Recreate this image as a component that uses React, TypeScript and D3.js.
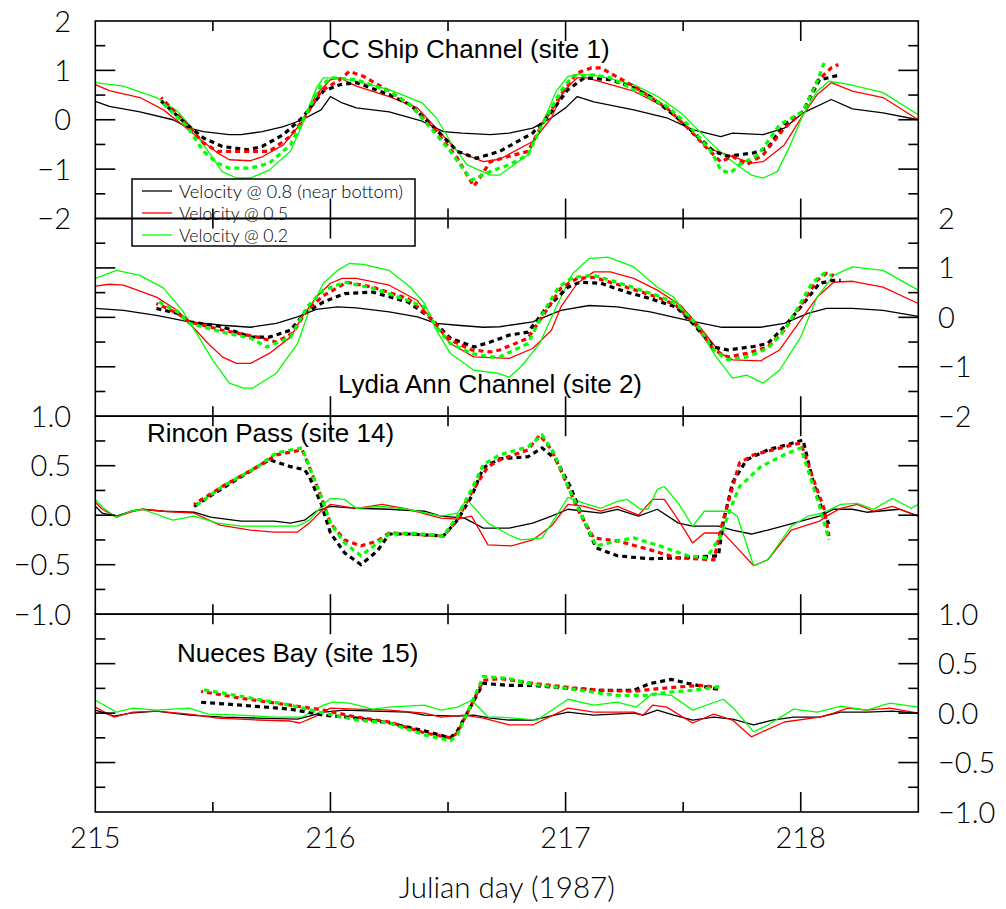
import React from 'react';
import * as d3 from 'd3';

type Pt = [number, number];

// ---------- axes / labels ----------
const X_DOMAIN: [number, number] = [215, 218.5];
const X_LABEL_VALUES = [215, 216, 217, 218];
const X_TICK_VALUES = [215.5, 216, 216.5, 217, 217.5, 218];
const X_TITLE = 'Julian day (1987)';

const WIDE_DOMAIN: [number, number] = [-2, 2];
const WIDE_LABELS = [2, 1, 0, -1, -2];
const WIDE_TICKS = [-1.5, -1, -0.5, 0, 0.5, 1, 1.5];
const NARROW_DOMAIN: [number, number] = [-1, 1];
const NARROW_LABELS = [1, 0.5, 0, -0.5, -1];
const NARROW_TICKS = [-0.75, -0.5, -0.25, 0, 0.25, 0.5, 0.75];

const SERIES_NAMES = ['Velocity @ 0.8 (near bottom)', 'Velocity @ 0.5', 'Velocity @ 0.2'];
const SERIES_COLORS = ['#000000', '#ff0000', '#00ff00'];
const PANEL_TITLES = ['CC Ship Channel (site 1)', 'Lydia Ann Channel (site 2)', 'Rincon Pass (site 14)', 'Nueces Bay (site 15)'];

// ---------- Panel 1 : CC Ship Channel ----------
const P1_S08: Pt[] = [[215.00,0.37],[215.06,0.27],[215.19,0.16],[215.33,0.00],[215.40,-0.17],[215.46,-0.24],[215.57,-0.30],[215.62,-0.30],[215.71,-0.24],[215.80,-0.14],[215.88,0.00],[215.96,0.20],[216.00,0.47],[216.05,0.34],[216.11,0.24],[216.25,0.16],[216.39,-0.03],[216.48,-0.24],[216.56,-0.27],[216.68,-0.30],[216.76,-0.27],[216.86,-0.17],[216.94,0.04],[217.00,0.24],[217.05,0.47],[217.12,0.36],[217.29,0.20],[217.43,0.04],[217.54,-0.20],[217.66,-0.34],[217.71,-0.27],[217.84,-0.30],[217.93,-0.17],[218.01,0.14],[218.13,0.41],[218.22,0.22],[218.35,0.14],[218.50,0.00]];
const P1_S05: Pt[] = [[215.00,0.71],[215.06,0.59],[215.19,0.45],[215.29,0.20],[215.37,-0.10],[215.46,-0.45],[215.52,-0.67],[215.57,-0.81],[215.66,-0.83],[215.71,-0.75],[215.80,-0.51],[215.88,-0.04],[215.94,0.51],[216.00,0.81],[216.04,0.85],[216.11,0.68],[216.25,0.47],[216.37,0.24],[216.45,-0.17],[216.54,-0.64],[216.65,-0.85],[216.72,-0.80],[216.86,-0.44],[216.94,0.04],[216.99,0.58],[217.05,0.85],[217.09,0.85],[217.29,0.58],[217.43,0.24],[217.52,-0.17],[217.60,-0.57],[217.69,-0.71],[217.79,-0.88],[217.84,-0.85],[217.93,-0.51],[218.01,0.10],[218.07,0.51],[218.13,0.75],[218.22,0.58],[218.35,0.45],[218.50,0.00]];
const P1_S02: Pt[] = [[215.00,0.75],[215.12,0.68],[215.26,0.45],[215.35,0.17],[215.40,-0.10],[215.48,-0.64],[215.54,-1.05],[215.60,-1.18],[215.66,-1.18],[215.74,-1.02],[215.83,-0.64],[215.88,-0.10],[215.94,0.65],[215.97,0.85],[216.03,0.85],[216.11,0.78],[216.25,0.61],[216.39,0.34],[216.45,0.04],[216.51,-0.44],[216.58,-0.91],[216.68,-1.12],[216.72,-1.12],[216.84,-0.71],[216.90,-0.10],[216.96,0.58],[217.01,0.88],[217.06,0.93],[217.15,0.88],[217.29,0.71],[217.40,0.45],[217.50,0.10],[217.57,-0.24],[217.64,-0.57],[217.71,-0.85],[217.79,-1.12],[217.84,-1.18],[217.90,-1.05],[217.95,-0.57],[218.01,0.10],[218.07,0.58],[218.12,0.78],[218.21,0.71],[218.35,0.55],[218.50,0.10]];
const P1_D08: Pt[] = [[215.28,0.38],[215.39,-0.10],[215.46,-0.37],[215.54,-0.54],[215.65,-0.61],[215.71,-0.54],[215.80,-0.30],[215.88,0.04],[215.97,0.58],[216.04,0.71],[216.11,0.75],[216.25,0.51],[216.34,0.30],[216.45,-0.20],[216.54,-0.64],[216.62,-0.78],[216.72,-0.64],[216.86,-0.27],[216.93,0.10],[217.01,0.61],[217.08,0.85],[217.19,0.81],[217.29,0.65],[217.36,0.47],[217.46,0.10],[217.54,-0.24],[217.63,-0.64],[217.69,-0.74],[217.80,-0.67],[217.86,-0.57],[217.93,-0.10],[218.01,0.17],[218.08,0.81],[218.17,0.91]];
const P1_D05: Pt[] = [[215.28,0.45],[215.39,-0.10],[215.46,-0.47],[215.52,-0.64],[215.66,-0.64],[215.74,-0.64],[215.82,-0.37],[215.88,-0.04],[215.96,0.58],[216.04,0.81],[216.08,0.98],[216.14,0.88],[216.25,0.58],[216.34,0.30],[216.45,-0.24],[216.54,-0.78],[216.61,-1.35],[216.68,-0.85],[216.76,-0.74],[216.84,-0.64],[216.90,-0.10],[216.98,0.51],[217.05,0.95],[217.11,1.05],[217.15,1.05],[217.29,0.68],[217.43,0.24],[217.52,-0.17],[217.60,-0.57],[217.66,-0.85],[217.71,-0.74],[217.77,-0.91],[217.84,-0.71],[217.93,-0.17],[218.01,0.17],[218.07,0.78],[218.13,1.05],[218.16,1.12]];
const P1_D02: Pt[] = [[215.28,0.37],[215.39,-0.14],[215.46,-0.64],[215.52,-0.88],[215.57,-0.98],[215.66,-0.98],[215.74,-0.88],[215.83,-0.51],[215.88,-0.04],[215.96,0.71],[216.01,0.85],[216.11,0.81],[216.25,0.58],[216.34,0.30],[216.45,-0.30],[216.51,-0.64],[216.60,-1.22],[216.68,-1.05],[216.76,-0.91],[216.84,-0.71],[216.90,-0.10],[216.98,0.58],[217.03,0.88],[217.12,0.91],[217.19,0.85],[217.29,0.61],[217.43,0.27],[217.52,-0.10],[217.62,-0.64],[217.66,-1.02],[217.70,-1.08],[217.74,-0.91],[217.82,-0.71],[217.91,-0.10],[218.01,0.17],[218.07,0.78],[218.10,1.16]];

// ---------- Panel 2 : Lydia Ann Channel ----------
const P2_S08: Pt[] = [[215.00,0.18],[215.12,0.14],[215.26,0.04],[215.40,-0.09],[215.54,-0.16],[215.66,-0.20],[215.77,-0.12],[215.86,0.01],[215.94,0.16],[216.03,0.21],[216.11,0.19],[216.25,0.11],[216.37,0.01],[216.45,-0.12],[216.54,-0.16],[216.65,-0.20],[216.72,-0.19],[216.86,-0.09],[216.98,0.14],[217.10,0.24],[217.22,0.21],[217.36,0.11],[217.52,-0.06],[217.66,-0.20],[217.83,-0.20],[217.93,-0.12],[218.03,0.08],[218.11,0.18],[218.22,0.18],[218.35,0.14],[218.50,0.02]];
const P2_S05: Pt[] = [[215.00,0.63],[215.06,0.67],[215.12,0.65],[215.26,0.41],[215.35,0.14],[215.40,-0.12],[215.48,-0.53],[215.54,-0.80],[215.60,-0.93],[215.66,-0.93],[215.74,-0.73],[215.83,-0.40],[215.88,0.01],[215.94,0.41],[216.00,0.69],[216.05,0.79],[216.11,0.79],[216.25,0.65],[216.37,0.34],[216.44,-0.12],[216.51,-0.53],[216.61,-0.80],[216.76,-0.83],[216.86,-0.63],[216.94,-0.26],[216.98,0.21],[217.05,0.69],[217.12,0.92],[217.19,0.92],[217.29,0.79],[217.39,0.55],[217.49,0.24],[217.57,-0.19],[217.66,-0.73],[217.71,-0.86],[217.83,-0.88],[217.91,-0.66],[217.99,-0.12],[218.07,0.41],[218.14,0.71],[218.22,0.73],[218.35,0.61],[218.50,0.28]];
const P2_S02: Pt[] = [[215.00,0.79],[215.09,0.95],[215.19,0.85],[215.29,0.59],[215.37,0.14],[215.43,-0.32],[215.50,-0.87],[215.57,-1.33],[215.63,-1.43],[215.67,-1.43],[215.77,-1.13],[215.86,-0.53],[215.91,0.14],[215.97,0.69],[216.03,0.95],[216.08,1.09],[216.14,1.07],[216.25,0.95],[216.34,0.61],[216.40,0.28],[216.45,-0.26],[216.51,-0.73],[216.61,-1.07],[216.71,-1.13],[216.76,-1.21],[216.81,-1.00],[216.89,-0.53],[216.96,0.21],[217.03,0.89],[217.10,1.19],[217.18,1.22],[217.29,1.02],[217.39,0.61],[217.46,0.41],[217.50,0.14],[217.57,-0.26],[217.64,-0.80],[217.71,-1.23],[217.77,-1.17],[217.84,-1.33],[217.91,-1.07],[218.00,-0.40],[218.07,0.41],[218.14,0.85],[218.22,1.02],[218.35,0.95],[218.50,0.55]];
const P2_D08: Pt[] = [[215.26,0.18],[215.35,0.08],[215.40,-0.09],[215.54,-0.19],[215.66,-0.40],[215.74,-0.40],[215.83,-0.26],[215.89,0.08],[215.97,0.31],[216.06,0.48],[216.18,0.51],[216.33,0.31],[216.42,0.01],[216.51,-0.42],[216.61,-0.60],[216.68,-0.50],[216.76,-0.36],[216.84,-0.30],[216.91,0.14],[217.01,0.61],[217.06,0.71],[217.15,0.69],[217.26,0.51],[217.36,0.38],[217.47,0.21],[217.54,-0.12],[217.63,-0.60],[217.69,-0.66],[217.80,-0.59],[217.86,-0.53],[217.93,-0.19],[218.00,0.21],[218.08,0.69],[218.14,0.75],[218.17,0.75]];
const P2_D05: Pt[] = [[215.26,0.28],[215.35,0.08],[215.40,-0.09],[215.54,-0.26],[215.69,-0.40],[215.77,-0.50],[215.84,-0.32],[215.90,0.14],[215.97,0.44],[216.07,0.71],[216.18,0.61],[216.33,0.38],[216.42,0.01],[216.51,-0.46],[216.60,-0.66],[216.68,-0.70],[216.72,-0.66],[216.84,-0.42],[216.91,0.08],[216.98,0.59],[217.05,0.79],[217.12,0.81],[217.26,0.61],[217.39,0.41],[217.47,0.24],[217.56,-0.19],[217.63,-0.66],[217.69,-0.80],[217.77,-0.73],[217.86,-0.60],[217.93,-0.26],[218.00,0.24],[218.07,0.75],[218.11,0.89],[218.14,0.85]];
const P2_D02: Pt[] = [[215.26,0.34],[215.35,0.11],[215.40,-0.12],[215.54,-0.30],[215.66,-0.42],[215.73,-0.60],[215.83,-0.40],[215.90,0.21],[215.97,0.55],[216.06,0.71],[216.18,0.59],[216.33,0.34],[216.40,0.21],[216.45,-0.19],[216.51,-0.53],[216.60,-0.73],[216.68,-0.80],[216.72,-0.80],[216.84,-0.53],[216.91,0.14],[216.97,0.61],[217.03,0.81],[217.12,0.85],[217.26,0.65],[217.39,0.44],[217.47,0.28],[217.56,-0.16],[217.63,-0.66],[217.69,-0.86],[217.77,-0.80],[217.86,-0.63],[217.93,-0.26],[217.99,0.21],[218.05,0.71],[218.10,0.89],[218.13,0.85]];

// ---------- Panel 3 : Rincon Pass ----------
const P3_S08: Pt[] = [[215.00,0.09],[215.03,0.02],[215.09,-0.01],[215.15,0.04],[215.20,0.06],[215.29,0.04],[215.42,0.03],[215.49,-0.02],[215.62,-0.06],[215.76,-0.06],[215.83,-0.08],[215.89,-0.05],[215.94,0.04],[216.00,0.09],[216.11,0.07],[216.25,0.06],[216.40,0.04],[216.47,-0.01],[216.57,-0.03],[216.65,-0.13],[216.76,-0.13],[216.86,-0.08],[216.94,-0.01],[217.01,0.06],[217.15,0.02],[217.22,0.06],[217.31,-0.01],[217.39,0.06],[217.48,-0.08],[217.54,-0.11],[217.65,-0.11],[217.71,-0.15],[217.79,-0.19],[217.86,-0.15],[217.97,-0.08],[218.08,-0.01],[218.14,0.06],[218.22,0.06],[218.28,0.03],[218.42,0.06],[218.50,-0.01]];
const P3_S05: Pt[] = [[215.00,0.13],[215.03,0.06],[215.09,-0.02],[215.15,0.03],[215.20,0.06],[215.29,0.04],[215.42,0.02],[215.53,-0.10],[215.66,-0.15],[215.76,-0.17],[215.86,-0.17],[215.91,-0.08],[215.96,0.04],[216.00,0.11],[216.11,0.07],[216.22,0.11],[216.33,0.06],[216.47,-0.03],[216.54,-0.04],[216.60,-0.01],[216.67,-0.30],[216.77,-0.31],[216.86,-0.25],[216.94,-0.11],[217.01,0.11],[217.08,0.09],[217.15,0.04],[217.22,0.09],[217.31,0.00],[217.37,0.16],[217.42,0.16],[217.48,-0.05],[217.54,-0.28],[217.59,-0.18],[217.67,-0.18],[217.71,-0.28],[217.80,-0.51],[217.86,-0.45],[217.96,-0.15],[218.08,-0.06],[218.11,-0.01],[218.17,0.07],[218.24,0.11],[218.31,0.04],[218.39,0.09],[218.50,-0.01]];
const P3_S02: Pt[] = [[215.00,0.16],[215.03,0.08],[215.09,-0.02],[215.15,0.04],[215.20,0.06],[215.33,-0.05],[215.42,-0.01],[215.52,-0.08],[215.62,-0.11],[215.76,-0.11],[215.86,-0.11],[215.91,-0.05],[215.97,0.11],[216.00,0.17],[216.06,0.16],[216.11,0.07],[216.22,0.09],[216.33,0.06],[216.47,-0.01],[216.54,0.02],[216.58,0.16],[216.67,-0.08],[216.76,-0.20],[216.81,-0.25],[216.90,-0.23],[216.96,-0.01],[217.01,0.18],[217.08,0.12],[217.15,0.07],[217.22,0.14],[217.26,0.16],[217.32,0.06],[217.35,0.06],[217.39,0.26],[217.42,0.29],[217.48,0.12],[217.54,-0.11],[217.59,0.04],[217.70,0.04],[217.73,-0.01],[217.80,-0.51],[217.86,-0.45],[217.96,-0.11],[218.03,-0.01],[218.09,0.02],[218.17,0.11],[218.24,0.12],[218.31,0.06],[218.39,0.17],[218.47,0.07],[218.50,0.11]];
const P3_D08: Pt[] = [[215.42,0.09],[215.54,0.27],[215.69,0.49],[215.74,0.56],[215.83,0.49],[215.89,0.46],[215.91,0.39],[215.96,0.12],[216.00,-0.18],[216.06,-0.38],[216.13,-0.50],[216.20,-0.36],[216.25,-0.19],[216.34,-0.19],[216.48,-0.21],[216.54,-0.05],[216.60,0.19],[216.65,0.48],[216.72,0.57],[216.84,0.59],[216.90,0.68],[216.96,0.56],[217.02,0.29],[217.07,-0.01],[217.13,-0.33],[217.22,-0.41],[217.36,-0.44],[217.50,-0.43],[217.65,-0.41],[217.67,-0.08],[217.71,0.33],[217.77,0.56],[217.86,0.66],[217.94,0.71],[218.01,0.76],[218.05,0.36],[218.09,0.06],[218.12,-0.09]];
const P3_D05: Pt[] = [[215.42,0.11],[215.54,0.29],[215.69,0.49],[215.77,0.61],[215.88,0.66],[215.91,0.49],[215.96,0.19],[216.00,-0.08],[216.06,-0.25],[216.13,-0.31],[216.20,-0.26],[216.25,-0.18],[216.34,-0.19],[216.48,-0.21],[216.54,-0.05],[216.60,0.23],[216.67,0.49],[216.72,0.56],[216.84,0.66],[216.89,0.81],[216.94,0.66],[217.01,0.29],[217.06,0.02],[217.12,-0.23],[217.22,-0.26],[217.36,-0.35],[217.47,-0.43],[217.63,-0.45],[217.67,-0.05],[217.74,0.53],[217.80,0.61],[217.93,0.69],[218.00,0.73],[218.05,0.39],[218.10,0.06],[218.12,-0.21]];
const P3_D02: Pt[] = [[215.42,0.08],[215.54,0.29],[215.69,0.49],[215.77,0.63],[215.88,0.68],[215.91,0.49],[215.96,0.19],[216.00,-0.08],[216.06,-0.28],[216.13,-0.41],[216.20,-0.28],[216.25,-0.19],[216.34,-0.18],[216.48,-0.21],[216.54,-0.01],[216.60,0.26],[216.65,0.51],[216.72,0.61],[216.84,0.69],[216.90,0.81],[216.95,0.63],[217.01,0.29],[217.07,-0.01],[217.13,-0.31],[217.22,-0.26],[217.29,-0.23],[217.40,-0.31],[217.52,-0.41],[217.60,-0.43],[217.66,-0.21],[217.70,0.06],[217.74,0.29],[217.83,0.49],[217.93,0.61],[218.00,0.68],[218.04,0.39],[218.08,0.09],[218.12,-0.25]];

// ---------- Panel 4 : Nueces Bay ----------
const P4_S08: Pt[] = [[215.00,0.03],[215.08,-0.03],[215.15,0.00],[215.26,0.02],[215.40,-0.02],[215.54,-0.04],[215.69,-0.05],[215.86,-0.06],[215.91,-0.03],[215.97,0.01],[216.06,0.03],[216.18,0.02],[216.33,0.01],[216.40,-0.02],[216.54,-0.03],[216.61,-0.02],[216.68,-0.05],[216.76,-0.07],[216.86,-0.07],[217.01,0.01],[217.12,-0.02],[217.29,0.00],[217.33,-0.02],[217.39,0.03],[217.46,-0.02],[217.54,-0.07],[217.63,-0.04],[217.71,-0.06],[217.80,-0.12],[217.88,-0.07],[217.97,-0.04],[218.08,-0.04],[218.17,0.01],[218.28,0.01],[218.39,0.02],[218.50,0.00]];
const P4_S05: Pt[] = [[215.00,0.06],[215.08,-0.04],[215.16,0.01],[215.26,0.02],[215.40,-0.01],[215.52,-0.05],[215.69,-0.07],[215.83,-0.08],[215.87,-0.10],[215.93,-0.04],[216.00,0.05],[216.11,0.04],[216.25,0.03],[216.40,0.00],[216.47,-0.04],[216.57,-0.02],[216.65,-0.05],[216.76,-0.12],[216.86,-0.12],[217.01,0.05],[217.12,0.01],[217.29,0.01],[217.33,-0.02],[217.37,0.08],[217.43,0.06],[217.54,-0.10],[217.63,-0.01],[217.71,-0.07],[217.79,-0.24],[217.93,-0.09],[218.08,-0.04],[218.14,0.00],[218.20,0.05],[218.28,0.03],[218.38,0.05],[218.50,0.00]];
const P4_S02: Pt[] = [[215.00,0.13],[215.09,0.01],[215.16,0.05],[215.26,0.03],[215.40,0.05],[215.48,-0.01],[215.62,-0.02],[215.76,-0.04],[215.88,-0.04],[215.97,0.08],[216.01,0.11],[216.08,0.10],[216.18,0.04],[216.25,0.06],[216.40,0.08],[216.47,0.03],[216.54,0.06],[216.60,0.13],[216.67,-0.04],[216.72,-0.04],[216.88,-0.07],[217.01,0.14],[217.12,0.08],[217.22,0.11],[217.30,0.06],[217.37,0.20],[217.45,0.18],[217.54,0.03],[217.67,0.14],[217.71,0.06],[217.80,-0.19],[217.86,-0.12],[217.97,0.04],[218.07,0.01],[218.17,0.07],[218.28,0.03],[218.38,0.10],[218.50,0.06]];
const P4_D08: Pt[] = [[215.45,0.11],[215.62,0.08],[215.83,0.04],[215.97,-0.02],[216.11,-0.05],[216.25,-0.10],[216.40,-0.18],[216.51,-0.25],[216.54,-0.18],[216.65,0.30],[216.76,0.28],[216.86,0.28],[217.01,0.25],[217.15,0.23],[217.29,0.23],[217.36,0.30],[217.45,0.34],[217.52,0.30],[217.65,0.24]];
const P4_D05: Pt[] = [[215.45,0.22],[215.62,0.15],[215.83,0.08],[215.97,0.03],[216.11,-0.04],[216.25,-0.09],[216.40,-0.20],[216.51,-0.25],[216.54,-0.20],[216.65,0.33],[216.72,0.35],[216.86,0.30],[217.01,0.26],[217.15,0.23],[217.29,0.22],[217.36,0.24],[217.46,0.26],[217.57,0.28],[217.65,0.26]];
const P4_D02: Pt[] = [[215.45,0.24],[215.62,0.17],[215.83,0.08],[215.97,0.00],[216.11,-0.07],[216.25,-0.10],[216.40,-0.22],[216.51,-0.28],[216.54,-0.22],[216.65,0.37],[216.76,0.35],[216.86,0.29],[217.01,0.25],[217.15,0.20],[217.22,0.18],[217.35,0.18],[217.43,0.21],[217.54,0.23],[217.66,0.27]];

const PANEL_DOMAINS = [WIDE_DOMAIN, WIDE_DOMAIN, NARROW_DOMAIN, NARROW_DOMAIN];
const PANEL_SOLID = [[P1_S08, P1_S05, P1_S02], [P2_S08, P2_S05, P2_S02], [P3_S08, P3_S05, P3_S02], [P4_S08, P4_S05, P4_S02]];
const PANEL_DOTTED = [[P1_D08, P1_D05, P1_D02], [P2_D08, P2_D05, P2_D02], [P3_D08, P3_D05, P3_D02], [P4_D08, P4_D05, P4_D02]];

const fmtWide = (v: number) => (v < 0 ? '\u2212' + Math.abs(v) : String(v));
const fmtNarrow = (v: number) => (v < 0 ? '\u2212' + Math.abs(v).toFixed(1) : v.toFixed(1));

export default function App() {
  const W = 1006;
  const H = 909;
  const LEFT = 95.3;
  const RIGHT = 918.3;
  const BOUNDS = [21, 218.5, 416.2, 614.2, 812];
  const FONT = "'Liberation Sans', Arial, sans-serif";
  const AXIS_FONT = "Lato, 'Liberation Sans', sans-serif";
  const AXIS_FS = 29;
  const TITLE_FS = 26;
  const TITLE_POS = [[322, 58], [338, 393], [147, 442], [177, 662]];
  const LABEL_SIDE = ['left', 'right', 'left', 'right'];
  const DASH_OFFSETS = [0, 3, 6];

  const x = d3.scaleLinear().domain(X_DOMAIN).range([LEFT, RIGHT]);

  const panels = PANEL_DOMAINS.map((dom, i) => {
    const top = BOUNDS[i];
    const bottom = BOUNDS[i + 1];
    const y = d3.scaleLinear().domain(dom).range([bottom, top]);
    const wide = dom[1] === 2;
    return {
      i, top, bottom, y, wide,
      labels: wide ? WIDE_LABELS : NARROW_LABELS,
      ticks: wide ? WIDE_TICKS : NARROW_TICKS,
      fmt: wide ? fmtWide : fmtNarrow,
    };
  });

  return (
    <svg width={W} height={H} style={{ position: 'absolute', left: 0, top: 0, background: '#fff' }}
      xmlns="http://www.w3.org/2000/svg">
      <rect x={0} y={0} width={W} height={H} fill="#fff" />
      <defs>
        {panels.map(p => (
          <clipPath id={`clip${p.i}`} key={p.i}>
            <rect x={LEFT} y={p.top} width={RIGHT - LEFT} height={p.bottom - p.top} />
          </clipPath>
        ))}
      </defs>

      {panels.map(p => {
        const line = d3.line<Pt>().x(d => x(d[0])).y(d => p.y(d[1]));
        return (
          <g key={`c${p.i}`} clipPath={`url(#clip${p.i})`}>
            {PANEL_SOLID[p.i].map((s, k) => (
              <path key={`s${k}`} d={line(s) || ''} fill="none" stroke={SERIES_COLORS[k]} strokeWidth={1.3} strokeLinejoin="round" />
            ))}
            {PANEL_DOTTED[p.i].map((s, k) => (
              <path key={`d${k}`} d={line(s) || ''} fill="none" stroke={SERIES_COLORS[k]} strokeWidth={3.2}
                strokeDasharray="5 4" strokeDashoffset={DASH_OFFSETS[k]} />
            ))}
          </g>
        );
      })}

      {/* legend */}
      <g>
        <rect x={132} y={179} width={283} height={67} fill="#fff" stroke="#000" strokeWidth={1.5} />
        {SERIES_NAMES.map((name, k) => {
          const ry = 191 + k * 22;
          return (
            <g key={`lg${k}`}>
              <line x1={142} x2={172} y1={ry} y2={ry} stroke={SERIES_COLORS[k]} strokeWidth={1.3} />
              <text x={179} y={ry + 6.5} fontFamily={AXIS_FONT} fontWeight={300} fontSize={18} fill="#000"
                textLength={k === 0 ? 224 : 109} lengthAdjust="spacingAndGlyphs">{name}</text>
            </g>
          );
        })}
      </g>

      {/* frames and ticks */}
      {panels.map(p => (
        <g key={`f${p.i}`} stroke="#000" strokeWidth={1.6} fill="none">
          <rect x={LEFT} y={p.top} width={RIGHT - LEFT} height={p.bottom - p.top} />
          {X_TICK_VALUES.map(v => {
            const len = Number.isInteger(v) ? 20 : 10;
            return (
              <g key={`xt${v}`}>
                <line x1={x(v)} x2={x(v)} y1={p.top} y2={p.top + len} />
                <line x1={x(v)} x2={x(v)} y1={p.bottom} y2={p.bottom - len} />
              </g>
            );
          })}
          {p.ticks.map(v => {
            const major = p.wide ? Number.isInteger(v) : Number.isInteger(v * 2);
            const len = major ? 20 : 10;
            return (
              <g key={`yt${v}`}>
                <line x1={LEFT} x2={LEFT + len} y1={p.y(v)} y2={p.y(v)} />
                <line x1={RIGHT} x2={RIGHT - len} y1={p.y(v)} y2={p.y(v)} />
              </g>
            );
          })}
        </g>
      ))}

      {/* y tick labels */}
      {panels.map(p => (
        <g key={`yl${p.i}`} fontFamily={AXIS_FONT} fontWeight={300} fontSize={AXIS_FS} fill="#000">
          {p.labels.map(v => (
            LABEL_SIDE[p.i] === 'left' ? (
              <text key={v} x={71} y={p.y(v) + 10.5} textAnchor="end">{p.fmt(v)}</text>
            ) : (
              <text key={v} x={938} y={p.y(v) + 10.5} textAnchor="start">{p.fmt(v)}</text>
            )
          ))}
        </g>
      ))}

      {/* x tick labels */}
      <g fontFamily={AXIS_FONT} fontWeight={300} fontSize={AXIS_FS} fill="#000">
        {X_LABEL_VALUES.map(v => (
          <text key={v} x={x(v)} y={848} textAnchor="middle">{String(v)}</text>
        ))}
        <text x={(LEFT + RIGHT) / 2} y={898} textAnchor="middle" textLength={216} lengthAdjust="spacingAndGlyphs">{X_TITLE}</text>
      </g>

      {/* panel titles */}
      <g fontFamily={FONT} fontSize={TITLE_FS} fill="#000">
        {PANEL_TITLES.map((t, i) => (
          <text key={t} x={TITLE_POS[i][0]} y={TITLE_POS[i][1]}>{t}</text>
        ))}
      </g>
    </svg>
  );
}
